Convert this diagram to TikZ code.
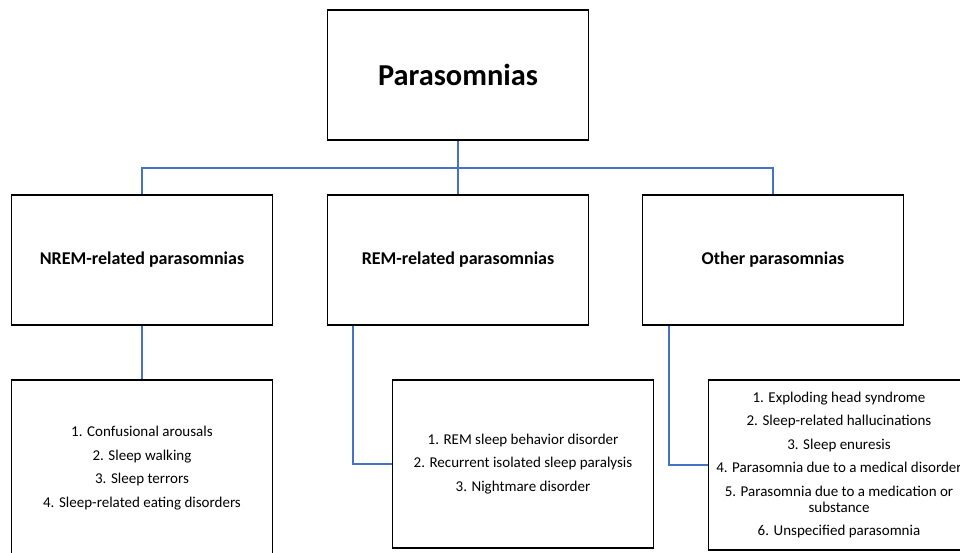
\documentclass[tikz,border=0pt]{standalone}
\usepackage{fontspec}
\setmainfont{Carlito}
\definecolor{linkblue}{HTML}{4472C4}
\tikzstyle{box} = [draw=black, line width=1.8pt, minimum width=261pt, inner sep=0pt, align=center]
\tikzstyle{head} = [box, minimum height=130pt, font=\bfseries\fontsize{18}{22}\selectfont]
\tikzstyle{list} = [box, font=\fontsize{15}{23.5}\selectfont]
\tikzstyle{link} = [draw=linkblue, line width=2pt]

\begin{document}
\begin{tikzpicture}[x=1pt,y=-1pt]
    \useasboundingbox (0,0) rectangle (960,552);
    \clip (0,0) rectangle (960,552);
    \node [box, minimum height=130pt, font=\bfseries\fontsize{30.4}{36}\selectfont] (para) at (458,75) {Parasomnias};
    \node [head] (nrem) at (142,260) {NREM-related parasomnias};
    \node [head] (rem) at (458,260) {REM-related parasomnias};
    \node [head] (other) at (773,260) {Other parasomnias};
    \node [list, minimum height=176pt] (nremlist) at (142,468) {1. Confusional arousals\\2. Sleep walking\\3. Sleep terrors\\4. Sleep-related eating disorders};
    \node [list, minimum height=168pt] (remlist) at (523,464) {1. REM sleep behavior disorder\\2. Recurrent isolated sleep paralysis\\3. Nightmare disorder};
    \node [list, minimum height=170pt] (otherlist) at (839,465) {1. Exploding head syndrome\\2. Sleep-related hallucinations\\3. Sleep enuresis\\4. Parasomnia due to a medical disorder\\5. Parasomnia due to a medication or\\[-7.5pt]substance\\6. Unspecified parasomnia};
    \coordinate (bus) at (458,168);
    \draw [link] (para.south) -- (rem.north);
    \draw [link] (nrem.north) -- (nrem.north |- bus) -- (other.north |- bus) -- (other.north);
    \draw [link] (nrem.south) -- (nremlist.north);
    \draw [link] ([xshift=26pt]rem.south west) |- (remlist.west);
    \draw [link] ([xshift=27pt]other.south west) |- (otherlist.west);
\end{tikzpicture}
\end{document}
